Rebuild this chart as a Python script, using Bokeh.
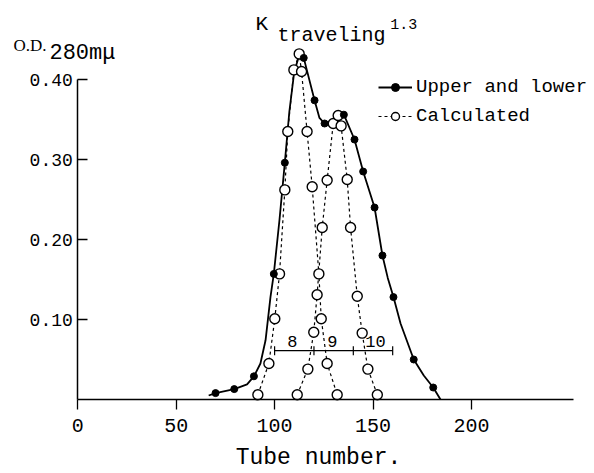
from bokeh.plotting import figure
from bokeh.models import Range1d, FixedTicker, Label, Legend, LegendItem
from bokeh.core.properties import value
from bokeh.embed import file_html
from bokeh.resources import INLINE
import math

# ---- data ----
upper_tube = [70, 79.5, 89.5, 99.6, 105.2, 114.8, 120.3, 125.4, 135.2, 140.6, 145.0, 150.8, 154.8, 160.4, 170.7, 180.6]
upper_od = [0.008, 0.013, 0.029, 0.157, 0.296, 0.427, 0.374, 0.345, 0.356, 0.325, 0.285, 0.240, 0.180, 0.128, 0.050, 0.015]

curve_tube = [66.5, 70, 79.5, 86, 89.5, 92.8, 95.4, 97.9, 99.6, 102.5, 105.2, 107.5, 110, 112.5, 114.8,
              120.3, 122.8, 125.4, 129, 132, 135.2, 140.6, 145, 150.8, 154.8, 157.5, 160.4, 164, 170.7,
              175.8, 180.6, 184.3]
curve_od = [0.005, 0.008, 0.013, 0.019, 0.029, 0.045, 0.074, 0.128, 0.157, 0.225, 0.296, 0.36, 0.41, 0.43, 0.427,
            0.374, 0.352, 0.345, 0.348, 0.355, 0.356, 0.325, 0.285, 0.240, 0.180, 0.152, 0.128, 0.095, 0.050,
            0.030, 0.015, 0.0]

calc_a_tube = [91.5, 97.1, 100.1, 102.5, 105.2, 106.7, 109.8, 112.5, 113.7, 116.5, 119.1, 122.5, 123.7, 126.7, 131.8]
calc_a_od = [0.006, 0.045, 0.101, 0.157, 0.262, 0.335, 0.412, 0.432, 0.410, 0.335, 0.266, 0.157, 0.101, 0.045, 0.006]

calc_b_tube = [111.5, 116.9, 119.9, 121.6, 124.2, 126.7, 129.8, 132.3, 133.8, 136.9, 138.6, 142.0, 144.5, 147.4, 152.2]
calc_b_od = [0.006, 0.038, 0.084, 0.131, 0.215, 0.274, 0.345, 0.355, 0.342, 0.275, 0.215, 0.129, 0.083, 0.038, 0.006]

fraction_edges = [100, 120, 140, 160]
fraction_level = 0.061
fraction_labels = ["8", "9", "10"]
fraction_label_x = [109, 129.3, 151.3]
fraction_label_od = 0.073

x_ticks = [0, 50, 100, 150, 200]
y_ticks = [0.10, 0.20, 0.30, 0.40]
y_tick_labels = ["0.10", "0.20", "0.30", "0.40"]

FONT = "Liberation Mono"
W, H = 594, 473
X0_PX, Y0_PX = 77.3, 399.0      # pixel position of the origin
PX_PER_TUBE, PX_PER_OD = 1.968, 800.0

p = figure(width=W, height=H,
           x_range=Range1d(-X0_PX / PX_PER_TUBE, (W - X0_PX) / PX_PER_TUBE),
           y_range=Range1d(-(H - Y0_PX) / PX_PER_OD, Y0_PX / PX_PER_OD),
           output_backend="svg", toolbar_location=None,
           min_border_left=0, min_border_right=0, min_border_top=0, min_border_bottom=0)
p.outline_line_color = None
p.grid.visible = False
p.background_fill_color = "white"
p.border_fill_color = "white"

# axes (drawn inside the frame at the origin)
xa = p.xaxis[0]
xa.fixed_location = 0
xa.ticker = FixedTicker(ticks=x_ticks)
xa.bounds = (0, 252)
xa.major_tick_out = 10
xa.major_tick_in = 0
xa.minor_tick_out = 0
xa.minor_tick_in = 0
xa.axis_line_width = 1.5
xa.axis_line_color = "black"
xa.major_tick_line_color = "black"
xa.major_tick_line_width = 1.3
xa.major_label_text_font = FONT
xa.major_label_text_font_size = "20px"
xa.major_label_text_color = "black"
xa.major_label_standoff = 9

ya = p.yaxis[0]
ya.fixed_location = 0
ya.ticker = FixedTicker(ticks=y_ticks)
ya.bounds = (0, 0.40)
ya.major_tick_in = 10
ya.major_tick_out = 0
ya.minor_tick_out = 0
ya.minor_tick_in = 0
ya.axis_line_width = 1.5
ya.axis_line_color = "black"
ya.major_tick_line_color = "black"
ya.major_tick_line_width = 1.3
ya.major_label_text_font = FONT
ya.major_label_text_font_size = "18px"
ya.major_label_text_color = "black"
ya.major_label_standoff = 5
ya.major_label_overrides = {t: s for t, s in zip(y_ticks, y_tick_labels)}

# curves
solid_line = p.line(curve_tube, curve_od, line_color="black", line_width=1.8)
dash_a = p.line(calc_a_tube, calc_a_od, line_color="black", line_width=1.2, line_dash="3 3")
dash_b = p.line(calc_b_tube, calc_b_od, line_color="black", line_width=1.2, line_dash="3 3")

# fraction bar
p.line([fraction_edges[0], fraction_edges[-1]], [fraction_level, fraction_level], line_color="black", line_width=1.2)
p.scatter(fraction_edges, [fraction_level] * len(fraction_edges), marker="dash", angle=math.pi / 2,
          size=9, line_color="black", line_width=1.2)
p.text(fraction_label_x, [fraction_label_od] * len(fraction_labels), text=fraction_labels,
       text_font=value(FONT), text_font_size="17px", text_align="center", text_baseline="alphabetic",
       text_color="black")

open_a = p.scatter(calc_a_tube, calc_a_od, marker="circle", size=10, fill_color="white",
                   line_color="black", line_width=1.4)
open_b = p.scatter(calc_b_tube, calc_b_od, marker="circle", size=10, fill_color="white",
                   line_color="black", line_width=1.4)
filled = p.scatter(upper_tube, upper_od, marker="circle", size=7, fill_color="black", line_color="black")

# legend (location = bottom-left corner, in px from the frame's bottom-left)
legend = Legend(items=[LegendItem(label="Upper and lower", renderers=[solid_line, filled]),
                       LegendItem(label="Calculated", renderers=[dash_a, open_b])],
                location=(378, H - 127), orientation="vertical",
                glyph_width=34, glyph_height=20, label_height=20, spacing=7,
                label_standoff=4, padding=0, margin=0,
                border_line_color=None, background_fill_alpha=0,
                label_text_font=FONT, label_text_font_size="19px", label_text_color="black")
p.add_layout(legend, "center")

# title pieces
p.add_layout(Label(x=90.3, y=0.469, text="K", text_font=FONT, text_font_size="21px",
                   text_baseline="alphabetic", text_align="left", text_color="black"))
p.add_layout(Label(x=101.5, y=0.455, text="traveling", text_font=FONT, text_font_size="20px",
                   text_baseline="alphabetic", text_align="left", text_color="black"))
p.add_layout(Label(x=158.8, y=0.469, text="1.3", text_font=FONT, text_font_size="15px",
                   text_baseline="alphabetic", text_align="left", text_color="black"))

# y label pieces
p.add_layout(Label(x=-32.7, y=0.442, text="O.D.", text_font="Liberation Serif", text_font_size="17px",
                   text_baseline="alphabetic", text_align="left", text_color="black"))
p.add_layout(Label(x=-14.4, y=0.433, text="280mμ", text_font=FONT, text_font_size="22px",
                   text_baseline="alphabetic", text_align="left", text_color="black"))

# x label
p.add_layout(Label(x=122.3, y=-0.073, text="Tube number.", text_font=FONT, text_font_size="23px",
                   text_baseline="alphabetic", text_align="center", text_color="black"))

open("out.html", "w").write(file_html(p, INLINE))
